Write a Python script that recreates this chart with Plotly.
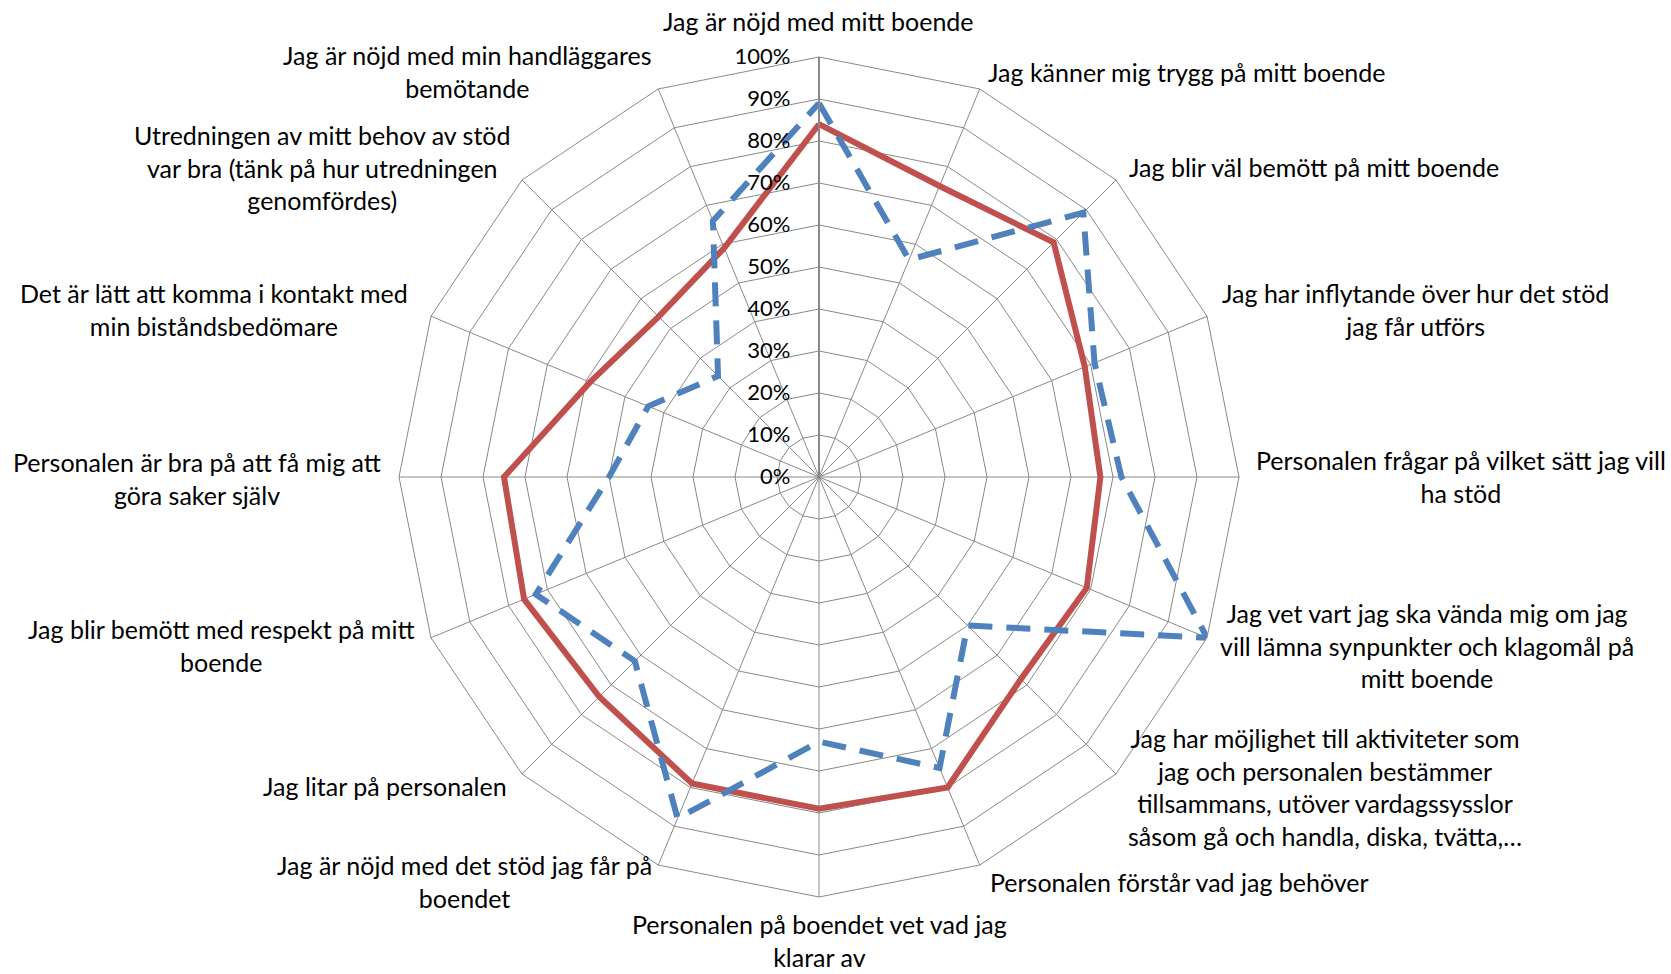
import plotly.graph_objects as go

# ---------------- data ----------------
categories = [
    "Jag är nöjd med mitt boende",
    "Jag känner mig trygg på mitt boende",
    "Jag blir väl bemött på mitt boende",
    "Jag har inflytande över hur det stöd jag får utförs",
    "Personalen frågar på vilket sätt jag vill ha stöd",
    "Jag vet vart jag ska vända mig om jag vill lämna synpunkter och klagomål på mitt boende",
    "Jag har möjlighet till aktiviteter som jag och personalen bestämmer tillsammans, utöver vardagssysslor såsom gå och handla, diska, tvätta,…",
    "Personalen förstår vad jag behöver",
    "Personalen på boendet vet vad jag klarar av",
    "Jag är nöjd med det stöd jag får på boendet",
    "Jag litar på personalen",
    "Jag blir bemött med respekt på mitt boende",
    "Personalen är bra på att få mig att göra saker själv",
    "Det är lätt att komma i kontakt med min biståndsbedömare",
    "Utredningen av mitt behov av stöd var bra (tänk på hur utredningen genomfördes)",
    "Jag är nöjd med min handläggares bemötande",
]

category_labels = [
    "Jag är nöjd med mitt boende",
    "Jag känner mig trygg på mitt boende",
    "Jag blir väl bemött på mitt boende",
    "Jag har inflytande över hur det stöd<br>jag får utförs",
    "Personalen frågar på vilket sätt jag vill<br>ha stöd",
    "Jag vet vart jag ska vända mig om jag<br>vill lämna synpunkter och klagomål på<br>mitt boende",
    "Jag har möjlighet till aktiviteter som<br>jag och personalen bestämmer<br>tillsammans, utöver vardagssysslor<br>såsom gå och handla, diska, tvätta,…",
    "Personalen förstår vad jag behöver",
    "Personalen på boendet vet vad jag<br>klarar av",
    "Jag är nöjd med det stöd jag får på<br>boendet",
    "Jag litar på personalen",
    "Jag blir bemött med respekt på mitt<br>boende",
    "Personalen är bra på att få mig att<br>göra saker själv",
    "Det är lätt att komma i kontakt med<br>min biståndsbedömare",
    "Utredningen av mitt behov av stöd<br>var bra (tänk på hur utredningen<br>genomfördes)",
    "Jag är nöjd med min handläggares<br>bemötande",
]

series_red = [84, 75, 79, 68.5, 67, 69, 68, 80, 79, 79, 74, 76, 75, 59, 54, 59]
series_blue = [89, 56, 89, 71, 72, 100, 50, 75, 63, 88, 62, 73, 50, 44, 34, 66]

radial_tickvals = [0, 10, 20, 30, 40, 50, 60, 70, 80, 90, 100]
radial_ticktext = ["0%", "10%", "20%", "30%", "40%", "50%", "60%", "70%", "80%", "90%", "100%"]

# ---------------- layout helpers ----------------
W, H = 1671, 974
CX, CY, R = 819, 477, 420
FONT = "Lato, 'Open Sans', sans-serif"
GRID = "#898989"
LABEL_SIZE = 25

# label placement in pixels (x, y-centre, x-anchor); None y = rest on bottom edge
label_pos = [
    (818, 21, "center"),
    (986, 72, "left"),
    (1127, 167, "left"),
    (1415, 309, "center"),
    (1461, 476, "center"),
    (1427, 645, "center"),
    (1325, 787, "center"),
    (988, 882, "left"),
    (819, None, "center"),
    (465, 881, "center"),
    (509, 786, "right"),
    (221, 645, "center"),
    (197, 478, "center"),
    (214, 309, "center"),
    (322, 167, "center"),
    (467, 72, "center"),
]

def closed(v):
    return list(v) + [v[0]]

fig = go.Figure()
fig.add_trace(go.Scatterpolar(
    r=closed(series_red), theta=closed(categories), mode="lines",
    line=dict(color="#C0504D", width=6), name="Serie 1",
))
fig.add_trace(go.Scatterpolar(
    r=closed(series_blue), theta=closed(categories), mode="lines",
    line=dict(color="#4F81BD", width=6, dash="24px,14px"), name="Serie 2",
))

annotations = []
font = dict(family=FONT, size=LABEL_SIZE, color="#000000")
for txt, (px, py, anchor) in zip(category_labels, label_pos):
    if py is None:
        y, yanchor = 0, "bottom"
    else:
        y, yanchor = 1 - py / H, "middle"
    annotations.append(dict(
        text=txt, x=px / W, y=y, xref="paper", yref="paper",
        xanchor=anchor, yanchor=yanchor, align="center", showarrow=False,
        font=font,
    ))

fig.update_layout(
    width=W, height=H,
    margin=dict(l=0, r=0, t=0, b=0),
    paper_bgcolor="white", plot_bgcolor="white",
    showlegend=False,
    annotations=annotations,
    polar=dict(
        domain=dict(x=[(CX - R) / W, (CX + R) / W], y=[1 - (CY + R) / H, 1 - (CY - R) / H]),
        bgcolor="white",
        gridshape="linear",
        angularaxis=dict(
            type="category", categoryarray=categories,
            direction="clockwise", rotation=90,
            showticklabels=False, ticks="",
            showgrid=True, gridcolor=GRID, gridwidth=1,
            showline=True, linecolor=GRID, linewidth=1,
        ),
        radialaxis=dict(
            range=[0, 100], angle=90, side="counterclockwise",
            tickvals=radial_tickvals, ticktext=radial_ticktext,
            ticks="outside", ticklen=20, tickcolor="rgba(0,0,0,0)",
            tickfont=dict(family=FONT, size=22, color="#000000"),
            showgrid=True, gridcolor=GRID, gridwidth=1,
            showline=True, linecolor=GRID, linewidth=2,
            tickangle=90,
        ),
    ),
)

fig.write_html(
    "out.html",
    config={"displayModeBar": False},
    post_script="document.body.style.margin='0';",
)
